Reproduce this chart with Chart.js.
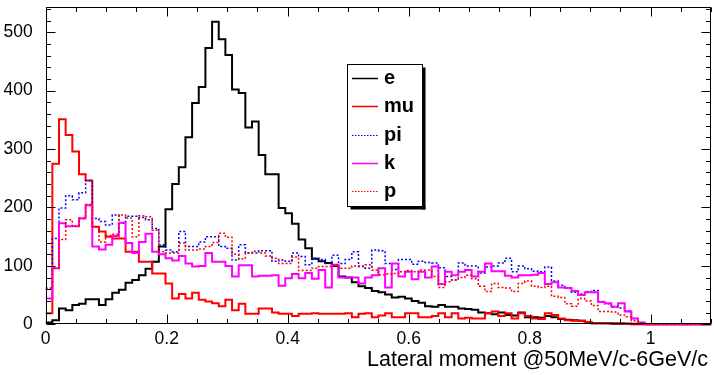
<!DOCTYPE html>
<html>
<head>
<meta charset="utf-8">
<script src="https://cdn.jsdelivr.net/npm/chart.js@4.4.1/dist/chart.umd.min.js"></script>
<style>
  html, body { margin: 0; padding: 0; background: #fff; }
  #wrap { width: 714px; height: 375px; }
</style>
</head>
<body>
<div id="wrap"><canvas id="chart" width="714" height="375"></canvas></div>
<script>
// --- histogram binning: 100 bins over [0, 1.1] ---
const nBins = 100;
const xMin = 0;
const xMax = 1.1;
const yMax = 544;

// --- bin contents ---
const eVals = [
  3, 7, 27, 24, 33, 35, 43, 43, 33, 43, 54, 59, 71, 76, 84, 95, 107, 133,
  197, 240, 269, 320, 379, 406, 473, 518, 488, 461, 402, 396, 337, 347, 290, 257, 257, 199, 190, 172, 145, 130, 112,
  108, 105, 100, 82, 80, 72, 65, 62, 57, 55, 51, 46, 47, 44, 40, 37, 31, 30, 33, 30, 30, 27, 26, 25, 20, 19, 17,
  20, 16, 15, 20, 12, 12, 11, 14, 12, 9, 8, 7, 6, 4, 2, 2, 2, 1, 1, 1,
  0, 0, 0, 0, 0, 0, 0, 0, 0, 0, 0, 0
];
const muVals = [
  19, 275, 351, 324, 296, 257, 246, 167, 159, 150, 147, 147, 124, 124, 107, 107,
  87, 87, 70, 44, 52, 44, 54, 42, 39, 36, 31, 42, 24, 35, 18, 18, 27,
  27, 20, 18, 18, 14, 18, 18, 19, 18, 18, 18, 18, 19, 12, 18, 19, 12, 15, 19, 12, 12, 19, 19, 12, 12, 14, 19, 12, 19,
  10, 11, 10, 10, 19, 22, 14, 19, 10, 19, 14, 10, 9, 19, 16, 10, 7, 6, 6, 4, 2, 2, 2, 2, 2, 1, 1, 1,
  0, 0, 0, 0, 0, 0, 0, 0, 0, 0
];
const piVals = [
  60,
  147, 199, 220, 213, 225, 246, 181, 176, 170, 187, 173, 185, 185, 183, 179,
  164, 136, 127, 124, 159, 133, 133, 141, 150, 150, 133, 130, 110, 136, 122, 122,
  126, 126, 108, 110, 108, 122, 116, 102, 113, 111, 104, 118, 104, 111, 124, 99, 96, 127,
  126, 104, 94, 111, 111, 103, 108, 106, 105, 97, 82, 76, 105, 100, 100, 88, 98, 100,
  105, 113, 90, 100, 95, 91, 90, 98, 74, 67, 62, 55, 52, 56, 58, 39, 35, 29, 28, 23, 10, 3, 0,
  0, 0, 0, 0, 0, 0, 0, 0, 0
];
const kVals = [
  44,
  96, 173, 168, 168, 181, 204, 133, 128, 136, 151, 174, 139, 122, 141, 155,
  124, 120, 113, 109, 117, 104, 99, 100, 122, 107, 107, 100, 82, 101, 101, 82,
  83, 83, 84, 66, 79, 86, 79, 88, 78, 93, 63, 102, 80, 80, 80, 70, 80, 84,
  96, 63, 104, 82, 90, 77, 90, 80, 99, 69, 90, 84, 90, 93, 82, 90, 104, 91,
  91, 83, 80, 84, 84, 85, 88, 69, 72, 63, 62, 57, 50, 55, 55, 38, 36, 30, 36, 22, 10, 3, 0,
  0, 0, 0, 0, 0, 0, 0, 0, 0
];
const pVals = [
  62,
  96, 145, 179, 168, 182, 205, 167, 141, 152, 154, 187, 182, 150, 186, 184,
  161, 124, 122, 122, 139, 127, 127, 129, 133, 140, 156, 149, 120, 112, 122, 125,
  122, 117, 113, 104, 104, 115, 92, 92, 96, 99, 99, 102, 96, 96, 100, 100, 102, 93,
  85, 86, 87, 90, 92, 90, 93, 93, 82, 63, 73, 76, 80, 84, 78, 65, 56, 70,
  63, 62, 56, 70, 74, 65, 63, 65, 48, 46, 35, 31, 44, 40, 32, 22, 22, 21, 16, 13, 6, 2, 0,
  0, 0, 0, 0, 0, 0, 0, 0, 0
];

// --- axis labels ---
const xTickVals = [0, 0.2, 0.4, 0.6, 0.8, 1];
const xTickLabels = ["0", "0.2", "0.4", "0.6", "0.8", "1"];
const yTickVals = [0, 100, 200, 300, 400, 500];
const yTickLabels = ["0", "100", "200", "300", "400", "500"];
const xTitle = "Lateral moment @50MeV/c-6GeV/c";
const seriesNames = ["e", "mu", "pi", "k", "p"];

// --- styles ---
const FONT = '"Liberation Sans", Arial, Helvetica, sans-serif';
const styles = [
  { color: "#000000", width: 2, dash: [] },
  { color: "#ff0000", width: 2, dash: [] },
  { color: "#0000ff", width: 1.5, dash: [2, 2] },
  { color: "#ff00ff", width: 2, dash: [] },
  { color: "#ff0000", width: 1.5, dash: [2, 2] },
];
const allVals = [eVals, muVals, piVals, kVals, pVals];

// histogram as step line: one point per lower bin edge plus the upper edge
const binW = (xMax - xMin) / nBins;
function histPoints(vals) {
  const pts = vals.map((v, i) => ({ x: xMin + i * binW, y: v }));
  pts.push({ x: xMax, y: vals[vals.length - 1] });
  return pts;
}

const datasets = allVals.map((vals, i) => ({
  label: seriesNames[i],
  data: histPoints(vals),
  borderColor: styles[i].color,
  borderWidth: styles[i].width,
  borderDash: styles[i].dash,
  stepped: "before", // horizontal first, then vertical at the next edge
  pointRadius: 0,
  fill: false,
  clip: 4,
  order: 5 - i, // later series on top, like ROOT drawing order
}));

// --- frame, inner ticks, legend box and axis title (ROOT look) ---
const rootDecor = {
  id: "rootDecor",
  afterDraw(chart) {
    const { ctx, chartArea: a } = chart;
    const xs = chart.scales.x, ys = chart.scales.y;
    const L = Math.round(a.left) + 0.5, R = Math.round(a.right) - 0.5;
    const T = Math.round(a.top) + 0.5, B = Math.round(a.bottom) - 0.5;
    ctx.save();
    ctx.strokeStyle = "#000";
    ctx.lineWidth = 1;
    ctx.setLineDash([]);
    ctx.strokeRect(L, T, R - L, B - T);

    ctx.beginPath();
    // y ticks (both sides, pointing inward)
    for (let v = 0; v <= yMax; v += 20) {
      const py = Math.round(ys.getPixelForValue(v)) + 0.5;
      const len = v % 100 === 0 ? 9 : 4.5;
      ctx.moveTo(L, py); ctx.lineTo(L + len, py);
      ctx.moveTo(R, py); ctx.lineTo(R - len, py);
    }
    // x ticks (top and bottom)
    for (let k = 0; k * 0.05 <= xMax + 1e-9; k++) {
      const px = Math.round(xs.getPixelForValue(k * 0.05)) + 0.5;
      const len = k % 4 === 0 ? 9 : 4.5;
      ctx.moveTo(px, B); ctx.lineTo(px, B - len);
      ctx.moveTo(px, T); ctx.lineTo(px, T + len);
    }
    ctx.stroke();

    // legend box with shadow
    const bx = 347.5, by = 64.5, bw = 75, bh = 142;
    ctx.fillStyle = "#000";
    ctx.fillRect(bx + bw, by + 3, 3, bh);
    ctx.fillRect(bx + 3, by + bh, bw, 3);
    ctx.fillStyle = "#fff";
    ctx.fillRect(bx, by, bw, bh);
    ctx.strokeRect(bx, by, bw, bh);

    ctx.font = "bold 20px " + FONT;
    ctx.textBaseline = "alphabetic";
    ctx.textAlign = "left";
    seriesNames.forEach((name, i) => {
      const base = 84 + i * 28.3;
      const ly = Math.round(base - 6) + 0.5;
      ctx.strokeStyle = styles[i].color;
      ctx.lineWidth = styles[i].width === 2 ? 1.5 : 1;
      ctx.setLineDash(styles[i].dash.length ? [1.5, 1.5] : []);
      ctx.beginPath();
      ctx.moveTo(352, ly); ctx.lineTo(378, ly);
      ctx.stroke();
      ctx.fillStyle = "#000";
      ctx.fillText(name, 384, base);
    });

    // x axis title, right aligned
    ctx.font = "21.5px " + FONT;
    ctx.textAlign = "right";
    ctx.fillStyle = "#000";
    ctx.fillText(xTitle, 708, 366);
    ctx.restore();
  },
};

function noEdgePadding(s) {
  s.paddingTop = 0;
  s.paddingBottom = 0;
  s.paddingLeft = 0;
  s.paddingRight = 0;
}

new Chart(document.getElementById("chart"), {
  type: "line",
  data: { datasets },
  options: {
    responsive: false,
    devicePixelRatio: 1,
    animation: false,
    layout: { padding: { left: 0, right: 2.8, top: 6.5, bottom: 0 } },
    plugins: { legend: { display: false }, tooltip: { enabled: false } },
    scales: {
      x: {
        type: "linear",
        min: xMin,
        max: xMax,
        grid: { display: false },
        border: { display: false },
        afterBuildTicks: (s) => { s.ticks = xTickVals.map((v) => ({ value: v })); },
        afterFit: (s) => { s.height = 50.7; noEdgePadding(s); },
        ticks: {
          maxRotation: 0,
          autoSkip: false,
          padding: -4,
          color: "#000",
          font: { family: FONT, size: 17.5 },
          callback: (v, i) => xTickLabels[i],
        },
      },
      y: {
        type: "linear",
        min: 0,
        max: yMax,
        grid: { display: false },
        border: { display: false },
        afterBuildTicks: (s) => { s.ticks = yTickVals.map((v) => ({ value: v })); },
        afterFit: (s) => { s.width = 45.7; noEdgePadding(s); },
        ticks: {
          padding: 5,
          color: "#000",
          font: { family: FONT, size: 17.5 },
          callback: (v, i) => yTickLabels[i],
        },
      },
    },
  },
  plugins: [rootDecor],
});
</script>
</body>
</html>
